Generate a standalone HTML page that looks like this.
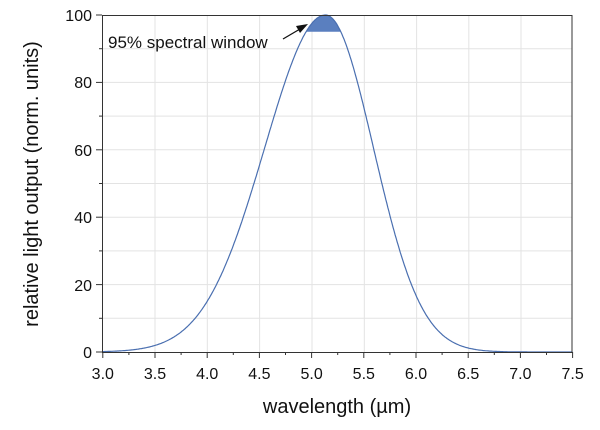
<!DOCTYPE html>
<html><head><style>body{margin:0;background:#fff}</style></head><body>
<svg id="svg" width="600" height="425" xmlns="http://www.w3.org/2000/svg" font-family="Liberation Sans, sans-serif">
<g stroke="#e3e3e3" stroke-width="1">
<line x1="155" y1="15" x2="155" y2="352"/><line x1="207.3" y1="15" x2="207.3" y2="352"/><line x1="259.6" y1="15" x2="259.6" y2="352"/><line x1="312" y1="15" x2="312" y2="352"/><line x1="364.3" y1="15" x2="364.3" y2="352"/><line x1="416.6" y1="15" x2="416.6" y2="352"/><line x1="468.8" y1="15" x2="468.8" y2="352"/><line x1="521" y1="15" x2="521" y2="352"/>
<line x1="102" y1="318.3" x2="572" y2="318.3"/><line x1="102" y1="284.6" x2="572" y2="284.6"/><line x1="102" y1="250.9" x2="572" y2="250.9"/><line x1="102" y1="217.2" x2="572" y2="217.2"/><line x1="102" y1="183.5" x2="572" y2="183.5"/><line x1="102" y1="149.8" x2="572" y2="149.8"/><line x1="102" y1="116.1" x2="572" y2="116.1"/><line x1="102" y1="82.4" x2="572" y2="82.4"/><line x1="102" y1="48.7" x2="572" y2="48.7"/>
</g>
<path id="fill" fill="#5a7fbf" stroke="none" d=""/>
<path id="curve" fill="none" stroke="#4a6fb0" stroke-width="1.2" d=""/>
<rect x="102.5" y="15.5" width="469.5" height="337" fill="none" stroke="#333" stroke-width="1"/>
<g id="ticks" stroke="#333" stroke-width="1"></g>
<g id="xl" font-size="16" fill="#111" text-anchor="middle"></g>
<g font-size="16" fill="#111" text-anchor="end">
<text x="92" y="358">0</text><text x="92" y="291">20</text><text x="92" y="223">40</text><text x="92" y="156">60</text><text x="92" y="88">80</text><text x="92" y="21">100</text>
</g>
<text x="337" y="413" font-size="20" text-anchor="middle" fill="#111">wavelength (µm)</text>
<text transform="translate(38,184) rotate(-90)" font-size="20" text-anchor="middle" fill="#111">relative light output (norm. units)</text>
<text x="108" y="48" font-size="17" fill="#111">95% spectral window</text>
<line x1="283" y1="39" x2="300" y2="29" stroke="#111" stroke-width="1.3"/>
<polygon points="308,24 296,26 300,33" fill="#111"/>
</svg>
<script>
var NS="http://www.w3.org/2000/svg";
var U=104.4,c=5.133,sl=0.582,sr=0.459,d="",f="";
function X(l){return 102.8+(l-3)*U}function Y(v){return 352-v*3.37}
function g(l){var s=l<c?sl:sr;return 100*Math.exp(-(l-c)*(l-c)/(2*s*s));}
for(var i=0;i<=450;i++){var l=3+i*0.01;d+=(i?"L":"M")+X(l).toFixed(1)+","+Y(g(l)).toFixed(1);}
document.getElementById("curve").setAttribute("d",d);
var k=Math.sqrt(-2*Math.log(0.95)),a=c-k*sl,b=c+k*sr;
for(var i=0;i<=40;i++){var l=a+(b-a)*i/40;f+=(i?"L":"M")+X(l).toFixed(1)+","+Y(g(l)).toFixed(1);}
document.getElementById("fill").setAttribute("d",f+"Z");
var T=document.getElementById("ticks"),XL=document.getElementById("xl");
function ln(x1,y1,x2,y2){var e=document.createElementNS(NS,"line");e.setAttribute("x1",x1);e.setAttribute("y1",y1);e.setAttribute("x2",x2);e.setAttribute("y2",y2);T.appendChild(e);}
for(var i=0;i<=18;i++){var x=X(3+i*0.25);ln(x,352,x,i%2?355:358);
if(i%2==0){var t=document.createElementNS(NS,"text");t.setAttribute("x",x);t.setAttribute("y",379);t.textContent=(3+i*0.25).toFixed(1);XL.appendChild(t);}}
for(var j=0;j<=10;j++){var y=Y(j*10);ln(j%2?99:96,y,102,y);}
</script>
</body></html>
